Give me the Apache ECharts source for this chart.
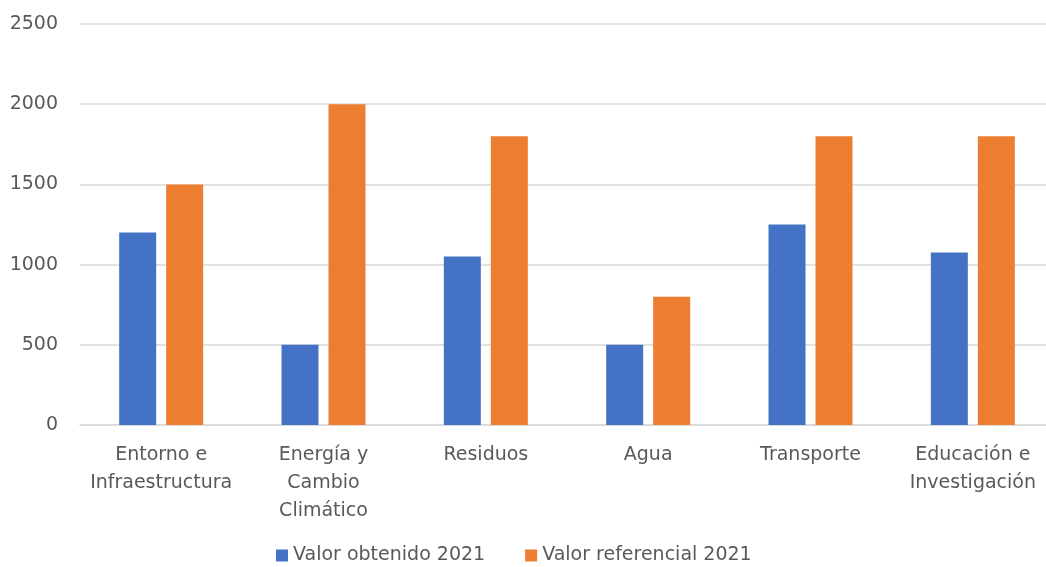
<!DOCTYPE html>
<html lang="es">
<head>
    <meta charset="UTF-8">
    <title>Valor obtenido vs referencial 2021</title>
    <script src="https://cdn.jsdelivr.net/npm/echarts@6/dist/echarts.min.js"></script>
    <style>
        html, body { margin: 0; padding: 0; background: #fff; overflow: hidden; }
    </style>
</head>
<body>
<!-- un poco mas ancho que la ventana: las lineas del original se salen por la derecha -->
<div id="main" style="width: 1054px;height:567px;"></div>

<script type="text/javascript">
    // categorias (con saltos de linea como en el original)
    var categorias = ['Entorno e\nInfraestructura', 'Energía y\nCambio\nClimático', 'Residuos', 'Agua', 'Transporte', 'Educación e\nInvestigación'];
    var obtenido = [1200, 500, 1050, 500, 1250, 1075];
    var referencial = [1500, 2000, 1800, 800, 1800, 1800];
    var ticksY = [0, 500, 1000, 1500, 2000, 2500];

    var fuente = '"DejaVu Sans", sans-serif';
    var gris = '#595959';

    var myChart = echarts.init(document.getElementById('main'));

    var option = {
        animation: false,
        textStyle: { fontFamily: fuente },
        grid: {
            left: 80,
            right: 0,
            top: 24,
            bottom: 142
        },
        legend: {
            top: 546,
            left: 276,
            padding: 0,
            itemWidth: 12,
            itemHeight: 12,
            itemGap: 40,
            icon: 'rect',
            textStyle: { fontSize: 19, color: gris, fontFamily: fuente },
            data: ['Valor obtenido 2021', 'Valor referencial 2021']
        },
        xAxis: {
            type: 'category',
            data: categorias,
            axisLine: { lineStyle: { color: '#d9d9d9', width: 1.5 } },
            axisTick: { show: false },
            axisLabel: {
                fontSize: 19,
                color: gris,
                lineHeight: 28,
                margin: 16,
                interval: 0,
                fontFamily: fuente
            }
        },
        yAxis: {
            type: 'value',
            min: ticksY[0],
            max: ticksY[ticksY.length - 1],
            interval: 500,
            axisLine: { show: false },
            axisTick: { show: false },
            axisLabel: {
                fontSize: 19,
                color: gris,
                margin: 22,
                fontFamily: fuente,
                formatter: function (v) { return String(v); }
            },
            splitLine: { lineStyle: { color: '#d9d9d9', width: 1.5 } }
        },
        series: [
            {
                name: 'Valor obtenido 2021',
                type: 'bar',
                data: obtenido,
                barWidth: 37,
                barGap: '27%',
                itemStyle: { color: '#4472c4' }
            },
            {
                name: 'Valor referencial 2021',
                type: 'bar',
                data: referencial,
                barWidth: 37,
                itemStyle: { color: '#ed7d31' }
            }
        ]
    };
    myChart.setOption(option);
</script>
</body>
</html>
